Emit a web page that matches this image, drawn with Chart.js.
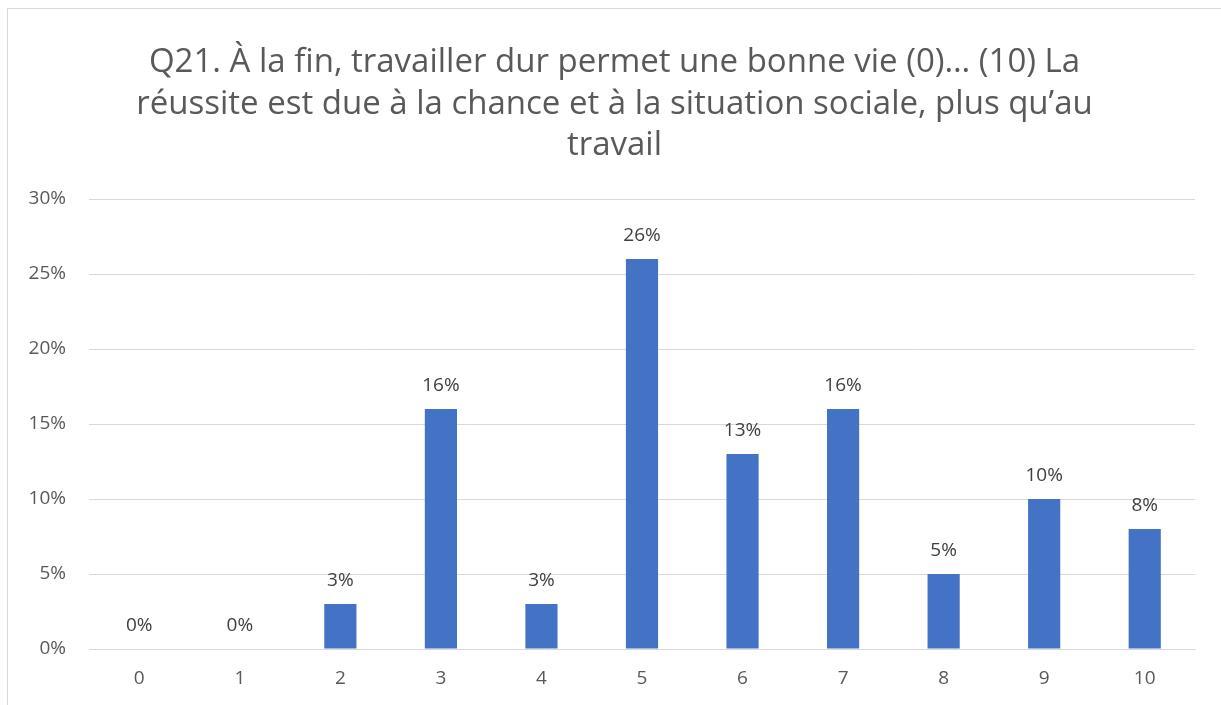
<!DOCTYPE html>
<html>
<head>
<meta charset="utf-8">
<script src="https://cdn.jsdelivr.net/npm/chart.js@4/dist/chart.umd.min.js"></script>
<style>
  body { margin: 0; background: #fff; overflow: hidden; }
  #box {
    position: absolute; left: 7px; top: 8px;
    width: 1214px; height: 697px;
    border-left: 1px solid #d9d9d9; border-top: 1px solid #d9d9d9;
    box-sizing: border-box;
  }
</style>
</head>
<body>
<div id="box"><canvas id="chart"></canvas></div>
<script>
const categories = ["0", "1", "2", "3", "4", "5", "6", "7", "8", "9", "10"];
const values = [0, 0, 3, 16, 3, 26, 13, 16, 5, 10, 8];
const titleLines = [
  "Q21. À la fin, travailler dur permet une bonne vie (0)… (10) La",
  "réussite est due à la chance et à la situation sociale, plus qu’au",
  "travail",
];

const FONT = "'Open Sans', Lato, sans-serif";

// title drawn by hand so it stays centred on the whole box
const chartTitle = {
  id: "chartTitle",
  afterDraw(chart) {
    const ctx = chart.ctx;
    ctx.save();
    ctx.font = "33px " + FONT;
    ctx.fillStyle = "#595959";
    ctx.textAlign = "center";
    ctx.textBaseline = "middle";
    titleLines.forEach((line, i) => {
      ctx.fillText(line, chart.width / 2, 54 + i * 41.5);
    });
    ctx.restore();
  },
};

const valueLabels = {
  id: "valueLabels",
  afterDatasetsDraw(chart) {
    const ctx = chart.ctx;
    const meta = chart.getDatasetMeta(0);
    ctx.save();
    ctx.font = "19px " + FONT;
    ctx.fillStyle = "#404040";
    ctx.textAlign = "center";
    ctx.textBaseline = "bottom";
    meta.data.forEach((bar, i) => {
      ctx.fillText(values[i] + "%", bar.x, bar.y - 14);
    });
    ctx.restore();
  },
};

new Chart(document.getElementById("chart"), {
  type: "bar",
  data: {
    labels: categories,
    datasets: [{
      data: values,
      backgroundColor: "#4472c4",
      borderWidth: 0,
      categoryPercentage: 1,
      barPercentage: 0.32,
    }],
  },
  options: {
    responsive: true,
    maintainAspectRatio: false,
    animation: false,
    layout: { padding: { top: 190, right: 26, bottom: 0, left: 0 } },
    plugins: {
      legend: { display: false },
      tooltip: { enabled: false },
      title: { display: false },
    },
    scales: {
      x: {
        grid: { display: false, drawTicks: false },
        border: { color: "#d9d9d9", width: 1 },
        ticks: { color: "#595959", font: { family: FONT, size: 19 }, padding: 18 },
        afterFit(scale) { scale.height = 56; },
      },
      y: {
        min: 0,
        max: 30,
        grid: { color: "#d9d9d9", lineWidth: 1, drawTicks: false },
        border: { display: false },
        ticks: {
          stepSize: 5,
          color: "#595959",
          font: { family: FONT, size: 19 },
          padding: 23,
          callback: (v) => v + "%",
        },
        afterFit(scale) { scale.width = 81; },
      },
    },
  },
  plugins: [valueLabels, chartTitle],
});
</script>
</body>
</html>
